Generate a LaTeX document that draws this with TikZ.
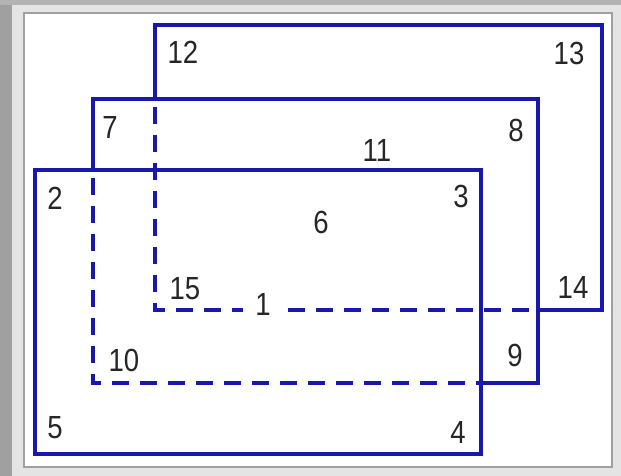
\documentclass[tikz,border=0pt]{standalone}
\usepackage{fontspec}
\setmainfont{Liberation Sans}
\definecolor{edgeblue}{RGB}{24,24,172}
\definecolor{framedark}{RGB}{160,160,160}
\definecolor{framelight}{RGB}{228,228,228}
\tikzset{
  solidedge/.style={draw=edgeblue, line width=3.6pt, line join=miter},
  hiddenedge/.style={draw=edgeblue, line width=3.6pt, dash pattern=on 17pt off 11pt},
  numlabel/.style={font=\fontsize{32}{32}\selectfont, text=black!85, inner sep=0pt, xscale=0.86},
}
\begin{document}
\begin{tikzpicture}[x=1pt, y=-1pt]
\useasboundingbox (0,0) rectangle (621,476);
% frame
\fill[framelight] (0,0) rectangle (621,476);
\fill[framedark] (0,0) rectangle (12,476);
\fill[framedark!80] (0,0) rectangle (621,5);
\draw[framedark, line width=1.2pt, fill=white] (24,13) rectangle (612,467);
% corners
\coordinate (A2) at (35,170);  \coordinate (A3) at (481,170);
\coordinate (A4) at (481,454); \coordinate (A5) at (35,454);
\coordinate (B7) at (93,99);   \coordinate (B8) at (538,99);
\coordinate (B9) at (538,383); \coordinate (B10) at (93,383);
\coordinate (C12) at (155,25); \coordinate (C13) at (602,25);
\coordinate (C14) at (602,310);\coordinate (C15) at (155,310);
\coordinate (BA) at (93,170);  \coordinate (BAb) at (481,383);
\coordinate (CB) at (155,99);  \coordinate (CBb) at (538,310);
% back rectangle C
\draw[hiddenedge, dash phase=-8pt] (CB) -- (C15) -- (CBb);
\draw[solidedge] (CB) -- (C12) -- (C13) -- (C14) -- (CBb);
% middle rectangle B
\draw[hiddenedge, dash phase=-8pt] (BA) -- (B10) -- (BAb);
\draw[solidedge] (BA) -- (B7) -- (B8) -- (B9) -- (BAb);
% front rectangle A
\draw[solidedge] (A2) -- (A3) -- (A4) -- (A5) -- cycle;
% labels
\node[numlabel] (l12) at (183,52) {12};
\node[numlabel] (l13) at (569,53) {13};
\node[numlabel] (l7) at (110,127) {7};
\node[numlabel] (l8) at (516,130) {8};
\node[numlabel] (l11) at (377,150) {11};
\node[numlabel] (l2) at (55,198) {2};
\node[numlabel] (l3) at (461,196) {3};
\node[numlabel] (l6) at (321,222) {6};
\node[numlabel] (l15) at (185,289) {15};
\node[numlabel, fill=white, minimum width=46pt, minimum height=26pt] (l1) at (263,304) {1};
\node[numlabel] (l14) at (573,287) {14};
\node[numlabel] (l10) at (124,360) {10};
\node[numlabel] (l9) at (515,355) {9};
\node[numlabel] (l5) at (55,428) {5};
\node[numlabel] (l4) at (458,432) {4};
\end{tikzpicture}
\end{document}
